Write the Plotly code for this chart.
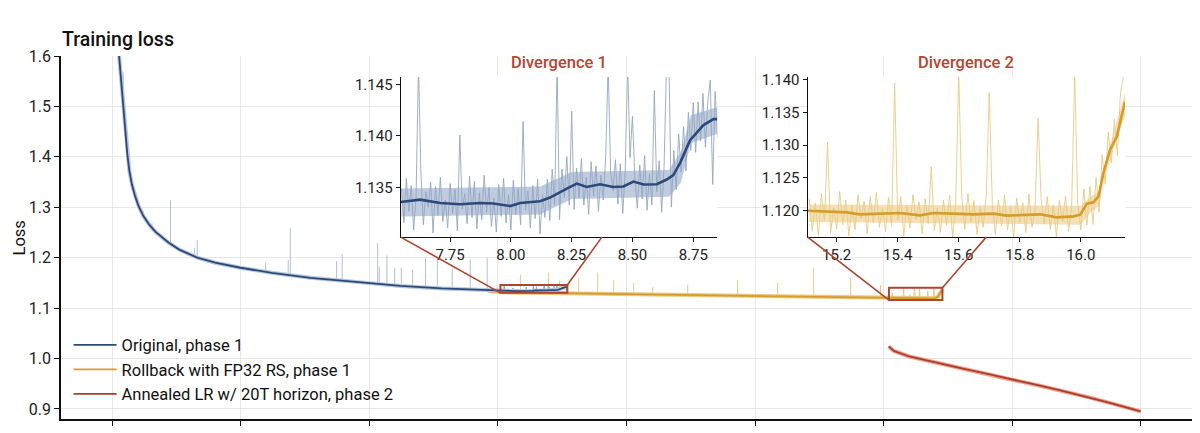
import numpy as np
import plotly.graph_objects as go

# x values are trillions of tokens seen
# --- original run, phase 1 (smoothed curve) ---
orig_x = [0.13, 0.17, 0.21, 0.25, 0.29, 0.33, 0.38, 0.44, 0.51, 0.6, 0.72, 0.84, 0.96, 1.09,
          1.3, 1.65, 2.0, 2.49, 3.1, 3.85, 4.95, 5.6, 6.4, 7.0]
orig_y = [1.6, 1.55, 1.5, 1.45, 1.405, 1.372, 1.345, 1.322, 1.302, 1.283, 1.265, 1.251, 1.24,
          1.23, 1.216, 1.2, 1.19, 1.18, 1.17, 1.16, 1.15, 1.144, 1.139, 1.1362]
# loss spikes of the original run (x, curve level, peak)
orig_spike_x = [0.21, 0.27, 0.6, 0.77, 0.96, 1.13, 1.6, 1.65, 2.98, 3.42, 3.46, 4.36,
                4.47, 5.16, 5.19, 5.34, 5.49, 5.62, 5.84, 6.09, 6.32, 6.61, 6.96, 7.29]
orig_spike_lo = [1.5, 1.425, 1.283, 1.26, 1.24, 1.227, 1.201, 1.199, 1.172, 1.167, 1.166, 1.155,
                 1.154, 1.149, 1.149, 1.147, 1.146, 1.145, 1.143, 1.142, 1.141, 1.139, 1.137, 1.136]
orig_spike_hi = [1.568, 1.433, 1.293, 1.268, 1.247, 1.314, 1.219, 1.235, 1.19, 1.195, 1.259, 1.193,
                 1.207, 1.229, 1.182, 1.205, 1.179, 1.18, 1.176, 1.199, 1.201, 1.178, 1.196, 1.199]

# --- divergence 1 window ---
div1_xrange = [7.547, 8.849]
div1_yrange = [1.1302, 1.1457]
div1_smooth_x = [7.547, 7.627, 7.709, 7.791, 7.873, 7.928, 7.997, 8.038, 8.120, 8.161, 8.230,
                 8.271, 8.312, 8.367, 8.421, 8.463, 8.504, 8.545, 8.600, 8.641, 8.668, 8.696,
                 8.737, 8.792, 8.833, 8.849]
div1_smooth_y = [1.1336, 1.13383, 1.1335, 1.13338, 1.1335, 1.13345, 1.13321, 1.1335, 1.13367,
                 1.13403, 1.1349, 1.13539, 1.13506, 1.13532, 1.13506, 1.1351, 1.13558, 1.1353,
                 1.13532, 1.13578, 1.1362, 1.13739, 1.13959, 1.14105, 1.14163, 1.14163]
div1_raw_y = [
    1.1349, 1.1316, 1.1359, 1.1327, 1.1352, 1.1309, 1.1341, 1.1470, 1.1363, 1.1314,
    1.1346, 1.1331, 1.1355, 1.1306, 1.1351, 1.1323, 1.1360, 1.1317, 1.1338, 1.1311,
    1.1354, 1.1325, 1.1348, 1.1308, 1.1401, 1.1329, 1.1344, 1.1315, 1.1361, 1.1321,
    1.1356, 1.1310, 1.1345, 1.1319, 1.1362, 1.1326, 1.1350, 1.1312, 1.1340, 1.1307,
    1.1353, 1.1322, 1.1359, 1.1316, 1.1343, 1.1309, 1.1357, 1.1324, 1.1349, 1.1314,
    1.1414, 1.1328, 1.1347, 1.1311, 1.1352, 1.1320, 1.1358, 1.1305, 1.1343, 1.1321,
    1.1358, 1.1318, 1.1368, 1.1333, 1.1470, 1.1319, 1.1368, 1.1340, 1.1380, 1.1333,
    1.1424, 1.1329, 1.1369, 1.1340, 1.1378, 1.1333, 1.1360, 1.1324, 1.1375, 1.1342,
    1.1371, 1.1327, 1.1362, 1.1338, 1.1380, 1.1470, 1.1366, 1.1347, 1.1377, 1.1334,
    1.1373, 1.1325, 1.1365, 1.1470, 1.1379, 1.1419, 1.1358, 1.1330, 1.1372, 1.1339,
    1.1381, 1.1328, 1.1363, 1.1333, 1.1444, 1.1346, 1.1376, 1.1326, 1.1370, 1.1470,
    1.1470, 1.1331, 1.1386, 1.1348, 1.1402, 1.1365, 1.1409, 1.1366, 1.1423, 1.1386,
    1.1432, 1.1384, 1.1433, 1.1395, 1.1441, 1.1389, 1.1434, 1.1454, 1.1353, 1.1443,
    1.1398]
# dense core of the raw noise band
div1_band_x = [7.55, 8.12, 8.25, 8.65, 8.70, 8.74, 8.85]
div1_band_hi = [1.1349, 1.1351, 1.1365, 1.1367, 1.1385, 1.1420, 1.1428]
div1_band_lo = [1.1322, 1.1324, 1.1339, 1.1341, 1.1355, 1.1393, 1.1402]

# --- rollback run with FP32 RS, phase 1 ---
roll_x = [7.3, 7.6, 8.0, 8.5, 9.0, 9.9, 11.0, 12.0, 13.0, 14.0, 15.0]
roll_y = [1.1335, 1.1312, 1.1305, 1.1297, 1.1290, 1.1275, 1.1260, 1.1247, 1.1233, 1.1218, 1.1202]
roll_spike_x = [7.94, 8.48, 8.7, 9.07, 9.44, 9.75, 10.14, 10.51, 11.19, 12.16, 12.94, 13.64, 14.36, 14.94]
roll_spike_lo = [1.1308, 1.1298, 1.1296, 1.1290, 1.1285, 1.1280, 1.1274, 1.1268, 1.1258, 1.1245,
                 1.1235, 1.1226, 1.1215, 1.1205]
roll_spike_hi = [1.166, 1.170, 1.155, 1.160, 1.170, 1.156, 1.150, 1.142, 1.146, 1.156,
                 1.150, 1.180, 1.160, 1.146]

# --- divergence 2 window ---
div2_xrange = [15.105, 16.145]
div2_yrange = [1.1159, 1.1404]
div2_smooth_x = [15.105, 15.167, 15.233, 15.276, 15.342, 15.408, 15.473, 15.517, 15.582, 15.648,
                 15.713, 15.757, 15.823, 15.867, 15.921, 15.976, 15.998, 16.020, 16.041, 16.058,
                 16.074, 16.096, 16.118, 16.134, 16.145]
div2_smooth_y = [1.11995, 1.11985, 1.11969, 1.11939, 1.1195, 1.1196, 1.11924, 1.1196, 1.1195,
                 1.11939, 1.1195, 1.11919, 1.1193, 1.11939, 1.11893, 1.11908, 1.11934, 1.12102,
                 1.12122, 1.12214, 1.12572, 1.12928, 1.13131, 1.13437, 1.13667]
div2_raw_y = [
    1.1218, 1.1168, 1.1211, 1.1162, 1.1226, 1.1184, 1.1304, 1.1165, 1.1205, 1.1172,
    1.1229, 1.1178, 1.1216, 1.1161, 1.1208, 1.1170, 1.1224, 1.1187, 1.1214, 1.1164,
    1.1221, 1.1181, 1.1227, 1.1174, 1.1204, 1.1167, 1.1220, 1.1177, 1.1395, 1.1185,
    1.1221, 1.1161, 1.1207, 1.1173, 1.1224, 1.1186, 1.1213, 1.1164, 1.1218, 1.1180,
    1.1267, 1.1169, 1.1204, 1.1166, 1.1216, 1.1177, 1.1223, 1.1159, 1.1210, 1.1410,
    1.1220, 1.1171, 1.1226, 1.1181, 1.1215, 1.1163, 1.1205, 1.1174, 1.1222, 1.1380,
    1.1211, 1.1163, 1.1216, 1.1176, 1.1223, 1.1170, 1.1206, 1.1158, 1.1219, 1.1181,
    1.1212, 1.1166, 1.1225, 1.1174, 1.1201, 1.1341, 1.1217, 1.1179, 1.1221, 1.1171,
    1.1208, 1.1160, 1.1215, 1.1183, 1.1222, 1.1168, 1.1204, 1.1410, 1.1211, 1.1170,
    1.1233, 1.1177, 1.1237, 1.1178, 1.1250, 1.1197, 1.1285, 1.1240, 1.1320, 1.1273,
    1.1340, 1.1284, 1.1380, 1.1405]
div2_band_x = [15.11, 16.0, 16.03, 16.06, 16.08, 16.145]
div2_band_hi = [1.1209, 1.1207, 1.1220, 1.1230, 1.1275, 1.1380]
div2_band_lo = [1.1182, 1.1178, 1.1196, 1.1207, 1.1255, 1.1345]

# --- annealed LR w/ 20T horizon, phase 2 ---
ann_x = [15.1, 15.2, 15.5, 16.0, 16.5, 17.0, 17.5, 18.0, 18.44, 19.0, 19.4, 20.0]
ann_y = [1.024, 1.015, 1.004, 0.992, 0.981, 0.970, 0.958, 0.947, 0.937, 0.923, 0.912, 0.895]

main_xticks = [0, 2.5, 5, 7.5, 10, 12.5, 15, 17.5, 20]
main_yticks = [0.9, 1.0, 1.1, 1.2, 1.3, 1.4, 1.5, 1.6]
main_xrange = [-1, 21]
main_yrange = [0.88, 1.6]

BLUE, BLUE_RAW, BLUE_BAND = "#2b4a7a", "#93a6c4", "rgba(140,160,194,0.55)"
ORANGE, ORANGE_RAW, ORANGE_BAND = "#d69b2b", "#ebc981", "rgba(234,198,122,0.55)"
RED, RED_RAW = "#a63f2e", "#f2a08c"
BOX = "#b0442f"
FONT = "Roboto"

div1_raw_x = np.linspace(7.55, 8.85, len(div1_raw_y))
div2_raw_x = np.linspace(15.11, 16.14, len(div2_raw_y))


def spikes(xs, lo, hi):
    sx, sy = [], []
    for a, b, c in zip(xs, lo, hi):
        sx += [a, a, None]
        sy += [b, c, None]
    return sx, sy


def band(fig, bx, lo, hi, color, xa, ya):
    fig.add_trace(go.Scatter(x=bx, y=lo, mode="lines", line=dict(width=0), xaxis=xa, yaxis=ya,
                             showlegend=False, hoverinfo="skip"))
    fig.add_trace(go.Scatter(x=bx, y=hi, mode="lines", line=dict(width=0), fill="tonexty",
                             fillcolor=color, xaxis=xa, yaxis=ya, showlegend=False, hoverinfo="skip"))


fig = go.Figure()

# main panel: rollback first so the original run sits on top
sx, sy = spikes(roll_spike_x, roll_spike_lo, roll_spike_hi)
fig.add_trace(go.Scatter(x=sx, y=sy, mode="lines", line=dict(color=ORANGE_RAW, width=1),
                         showlegend=False, hoverinfo="skip"))
fig.add_trace(go.Scatter(x=div2_raw_x, y=div2_raw_y, mode="lines",
                         line=dict(color=ORANGE_RAW, width=1), showlegend=False, hoverinfo="skip"))
fig.add_trace(go.Scatter(x=roll_x + div2_smooth_x, y=roll_y + div2_smooth_y, mode="lines",
                         line=dict(color=ORANGE_RAW, width=4), showlegend=False, hoverinfo="skip"))
fig.add_trace(go.Scatter(x=roll_x + div2_smooth_x, y=roll_y + div2_smooth_y, mode="lines",
                         line=dict(color=ORANGE, width=1.8), name="Rollback with FP32 RS, phase 1",
                         legendrank=2))

sx, sy = spikes(orig_spike_x, orig_spike_lo, orig_spike_hi)
fig.add_trace(go.Scatter(x=sx, y=sy, mode="lines", line=dict(color=BLUE_RAW, width=1),
                         opacity=0.7, showlegend=False, hoverinfo="skip"))
fig.add_trace(go.Scatter(x=div1_raw_x, y=div1_raw_y, mode="lines",
                         line=dict(color=BLUE_RAW, width=1), showlegend=False, hoverinfo="skip"))
fig.add_trace(go.Scatter(x=orig_x + div1_smooth_x, y=orig_y + div1_smooth_y, mode="lines",
                         line=dict(color="#b9c7dd", width=4), showlegend=False, hoverinfo="skip"))
fig.add_trace(go.Scatter(x=orig_x + div1_smooth_x, y=orig_y + div1_smooth_y, mode="lines",
                         line=dict(color=BLUE, width=1.8), name="Original, phase 1", legendrank=1))

fig.add_trace(go.Scatter(x=ann_x, y=ann_y, mode="lines", line=dict(color=RED_RAW, width=4),
                         showlegend=False, hoverinfo="skip"))
fig.add_trace(go.Scatter(x=ann_x, y=ann_y, mode="lines", line=dict(color=RED, width=1.8),
                         name="Annealed LR w/ 20T horizon, phase 2", legendrank=3))

# inset 1
band(fig, div1_band_x, div1_band_lo, div1_band_hi, BLUE_BAND, "x2", "y2")
fig.add_trace(go.Scatter(x=div1_raw_x, y=div1_raw_y, mode="lines", xaxis="x2", yaxis="y2",
                         line=dict(color=BLUE_RAW, width=0.9), showlegend=False, hoverinfo="skip"))
fig.add_trace(go.Scatter(x=div1_smooth_x, y=div1_smooth_y, mode="lines", xaxis="x2", yaxis="y2",
                         line=dict(color=BLUE, width=2.6), showlegend=False))
# inset 2
band(fig, div2_band_x, div2_band_lo, div2_band_hi, ORANGE_BAND, "x3", "y3")
fig.add_trace(go.Scatter(x=div2_raw_x, y=div2_raw_y, mode="lines", xaxis="x3", yaxis="y3",
                         line=dict(color=ORANGE_RAW, width=0.9), showlegend=False, hoverinfo="skip"))
fig.add_trace(go.Scatter(x=div2_smooth_x, y=div2_smooth_y, mode="lines", xaxis="x3", yaxis="y3",
                         line=dict(color=ORANGE, width=2.6), showlegend=False))

inset_y_dom = [0.501, 0.942]
inset1_x_dom = [0.3004, 0.5803]
inset2_x_dom = [0.6602, 0.9408]

axis_common = dict(showline=True, linecolor="#111", linewidth=1.3, ticks="outside",
                   tickcolor="#111", ticklen=4, tickfont=dict(size=15, color="#222"),
                   zeroline=False, showgrid=False)

# the page adds an 8 px body margin, so the margins are shifted to compensate
fig.update_layout(
    width=1200, height=433,
    margin=dict(l=53, r=16, t=48, b=22),
    paper_bgcolor="white", plot_bgcolor="white",
    font=dict(family=FONT, size=15, color="#222"),
    showlegend=True,
    legend=dict(x=0.0067, y=0.02, xanchor="left", yanchor="bottom", bgcolor="rgba(0,0,0,0)",
                font=dict(size=16.5, color="#111"), itemwidth=43, traceorder="normal"),
    xaxis=dict(range=main_xrange, domain=[0, 1], tickvals=main_xticks, showticklabels=False,
               ticks="outside", ticklen=5, tickcolor="#111", showline=True, linecolor="#111",
               linewidth=1.5, showgrid=True, gridcolor="#e8e8e8", gridwidth=1, zeroline=False),
    yaxis=dict(range=main_yrange, domain=[0, 1], tickvals=main_yticks, tickformat=".1f",
               ticks="outside", ticklen=5, tickcolor="#111", showline=True, linecolor="#111",
               linewidth=1.5, showgrid=True, gridcolor="#e8e8e8", gridwidth=1, zeroline=False,
               tickfont=dict(size=16, color="#222")),
    xaxis2=dict(axis_common, domain=inset1_x_dom, range=div1_xrange, anchor="y2",
                tickvals=[7.75, 8.0, 8.25, 8.5, 8.75], tickformat=".2f"),
    yaxis2=dict(axis_common, domain=inset_y_dom, range=div1_yrange, anchor="x2",
                tickvals=[1.135, 1.14, 1.145], tickformat=".3f"),
    xaxis3=dict(axis_common, domain=inset2_x_dom, range=div2_xrange, anchor="y3",
                tickvals=[15.2, 15.4, 15.6, 15.8, 16.0], tickformat=".1f"),
    yaxis3=dict(axis_common, domain=inset_y_dom, range=div2_yrange, anchor="x3",
                tickvals=[1.12, 1.125, 1.13, 1.135, 1.14], tickformat=".3f"),
)


def to_main(px, py):
    return (main_xrange[0] + (main_xrange[1] - main_xrange[0]) * px,
            main_yrange[0] + (main_yrange[1] - main_yrange[0]) * py)


shapes = []
for xr, yr, xd in [(div1_xrange, div1_yrange, inset1_x_dom), (div2_xrange, div2_yrange, inset2_x_dom)]:
    shapes.append(dict(type="rect", xref="x", yref="y", x0=xr[0], x1=xr[1], y0=yr[0], y1=yr[1],
                       line=dict(color=BOX, width=2), layer="above"))
    # lower-left corner of box to lower-left corner of inset
    ix, iy = to_main(xd[0], inset_y_dom[0])
    shapes.append(dict(type="line", xref="x", yref="y", x0=xr[0], y0=yr[0], x1=ix, y1=iy,
                       line=dict(color=BOX, width=1.6), layer="above"))
    # upper-right corner of box to upper-right corner of inset, hidden behind the inset
    ix, iy = to_main(xd[1], inset_y_dom[1])
    _, ybot = to_main(0, inset_y_dom[0])
    t = (ybot - yr[1]) / (iy - yr[1])
    shapes.append(dict(type="line", xref="x", yref="y", x0=xr[1], y0=yr[1],
                       x1=xr[1] + t * (ix - xr[1]), y1=ybot,
                       line=dict(color=BOX, width=1.6), layer="above"))
fig.update_layout(shapes=shapes)

fig.add_annotation(text="Training loss", xref="paper", yref="paper", x=-0.001, y=1.0,
                   xanchor="left", yanchor="bottom", yshift=3, showarrow=False,
                   font=dict(size=19.5, color="#111", weight=500))
fig.add_annotation(text="Loss", xref="paper", yref="paper", x=-0.0363, y=0.5, textangle=-90,
                   xanchor="center", yanchor="middle", showarrow=False,
                   font=dict(size=16.5, color="#111"))
for ax, label in [("x2", "Divergence 1"), ("x3", "Divergence 2")]:
    fig.add_annotation(text=label, xref=ax + " domain", yref="paper", x=0.5, y=inset_y_dom[1],
                       xanchor="center", yanchor="bottom", yshift=3, showarrow=False,
                       font=dict(size=16.5, color="#b5452f", weight=500))

fig.write_html("out.html")
